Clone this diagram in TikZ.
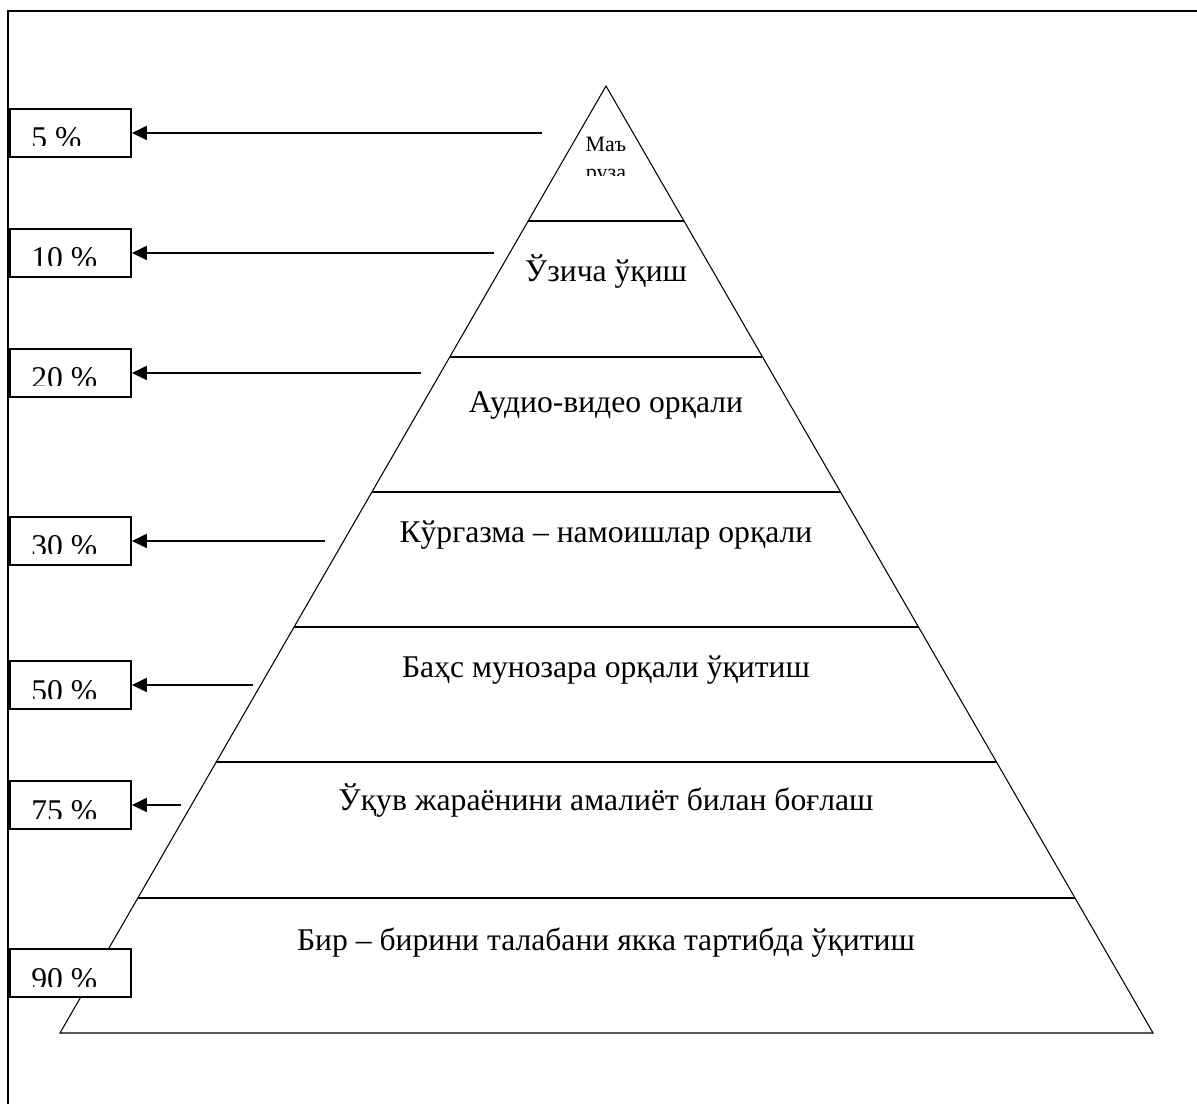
\documentclass[tikz,border=0pt]{standalone}
\usepackage{fontspec}
\setmainfont{Liberation Serif}
\usetikzlibrary{calc}
\usetikzlibrary{positioning, arrows.meta}

\begin{document}
\begin{tikzpicture}[x=0.02cm, y=-0.02cm]
    % Define the styles for the boxes, texts and arrows
    \tikzstyle{frame line}=[line width=1.1pt];
    \tikzstyle{pbox}=[draw, fill=white, line width=1.1pt, inner sep=0pt, anchor=north west, minimum width=2.42cm, minimum height=0.96cm];
    \tikzstyle{ptext}=[anchor=base west, inner sep=0pt, font=\fontsize{18}{22}\selectfont];
    \tikzstyle{level}=[anchor=base, inner sep=0pt, font=\fontsize{18}{22}\selectfont];
    \tikzstyle{small level}=[anchor=base, inner sep=0pt, font=\fontsize{12.5}{16}\selectfont];
    \tikzstyle{pointer}=[line width=1.1pt, -{Triangle[length=0.3cm, width=0.28cm]}];

    \useasboundingbox (0,0) rectangle (1197,1104);

    % Draw the outer frame (left and top only)
    \draw[frame line] (8,1104) -- (8,11) -- (1197,11);

    % Define the corners of the pyramid
    \coordinate (top) at (606,86);
    \coordinate (bl) at (60,1033);
    \coordinate (br) at (1153,1033);

    % Draw the pyramid
    \draw[line width=0.6pt] (top) -- (bl) -- (br) -- cycle;

    % Draw the borders between the seven layers
    \foreach \k in {1,...,6}
        \draw[line width=1.1pt] ($(top)!\k/7!(bl)$) -- ($(top)!\k/7!(br)$);

    % Label the top layer (cut off like the original)
    \begin{scope}
        \clip (540,100) rectangle (670,176);
        \node[small level] (lvl1) at (606,152) {Маъ};
        \node[small level] (lvl1b) at (606,180) {руза};
    \end{scope}

    % Label the other layers
    \node[level] (lvl2) at (606,282) {Ўзича ўқиш};
    \node[level] (lvl3) at (606,413) {Аудио-видео орқали};
    \node[level] (lvl4) at (606,543) {Кўргазма – намоишлар орқали};
    \node[level] (lvl5) at (606,677) {Баҳс мунозара орқали ўқитиш};
    \node[level] (lvl6) at (606,810) {Ўқув жараёнини амалиёт билан боғлаш};
    \node[level] (lvl7) at (606,950) {Бир – бирини талабани якка тартибда ўқитиш};

    % Draw the percentage boxes
    \foreach \lab/\ya in {5/108, 10/228, 20/348, 30/516, 50/660, 75/780, 90/948} {
        \node[pbox] (p\lab) at (9,\ya) {};
        \begin{scope}
            \clip (10,\ya) rectangle (130,\ya+38);
            \node[ptext] (l\lab) at (31,\ya+41) {\lab~\%};
        \end{scope}
    }

    % Arrows from the pyramid to the boxes
    \foreach \lab/\len in {5/410, 10/362, 20/289, 30/193, 50/121, 75/49} {
        \path (p\lab.east) ++(\len,0) coordinate (t\lab);
        \draw[pointer] (t\lab) -- (p\lab.east);
    }
\end{tikzpicture}
\end{document}
